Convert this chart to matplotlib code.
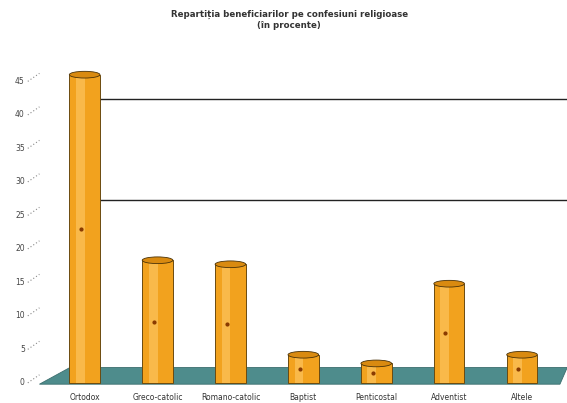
import matplotlib
matplotlib.use("Agg")
import matplotlib.pyplot as plt
from matplotlib.patches import Polygon, Ellipse

categories = ["Ortodox", "Greco-catolic", "Romano-catolic", "Baptist", "Penticostal", "Adventist", "Altele"]
values = [46.0, 18.3, 17.7, 4.2, 2.9, 14.8, 4.2]
yticks = [0, 5, 10, 15, 20, 25, 30, 35, 40, 45]
gridlines = [25, 40]
title = "Repartiția beneficiarilor pe confesiuni religioase\n(în procente)"

fig = plt.figure(figsize=(5.67, 4.03), dpi=100)
ax = fig.add_axes([0.085, 0.045, 0.9, 0.778])
ax.set_xlim(-0.5, 6.5)
ax.set_ylim(-0.3, 46.5)
ax.axis("off")

depth = 2.3

# floor
floor = Polygon([(-0.62, -0.2), (6.52, -0.2), (6.62, depth), (-0.2, depth)],
                closed=True, facecolor="#4e8c8c", edgecolor="#3c6e6e", lw=0.6,
                zorder=1, clip_on=False)
ax.add_patch(floor)

# back-wall gridlines
for g in gridlines:
    ax.plot([-0.2, 6.62], [g + depth, g + depth], color="#222222", lw=1.0, zorder=2,
            clip_on=False)

x = list(range(len(categories)))
w = 0.42
ax.bar(x, values, width=w, bottom=0.0, color="#f2a21e", edgecolor="#6b4a10",
       lw=0.7, zorder=3)
for xi, v in zip(x, values):
    ax.bar(xi - 0.06, v, width=0.12, bottom=0.0, color="#f9b94a", lw=0, zorder=4)
    cap = Ellipse((xi, v), w, 1.0, facecolor="#d98a10", edgecolor="#4a3208", lw=0.6,
                  zorder=5, clip_on=False)
    ax.add_patch(cap)
    ax.plot(xi - 0.05, v * 0.5, marker="o", ms=2, color="#8a3a00", zorder=6)

# y tick labels with dotted leaders
for t in yticks:
    ax.text(-0.82, t, str(t), ha="right", va="center", fontsize=5.5, color="#444444",
            clip_on=False)
    ax.plot([-0.78, -0.62], [t, t + 1.2], ls=(0, (1, 2)), color="#888888", lw=0.8,
            clip_on=False)

# category labels
for xi, c in zip(x, categories):
    ax.text(xi, -1.5, c, ha="center", va="top", fontsize=5.5, color="#333333", clip_on=False)

fig.text(0.51, 0.975, title, ha="center", va="top", fontsize=6.2, fontweight="bold",
         color="#333333", linespacing=1.2)

fig.savefig("out.png", dpi=100)
